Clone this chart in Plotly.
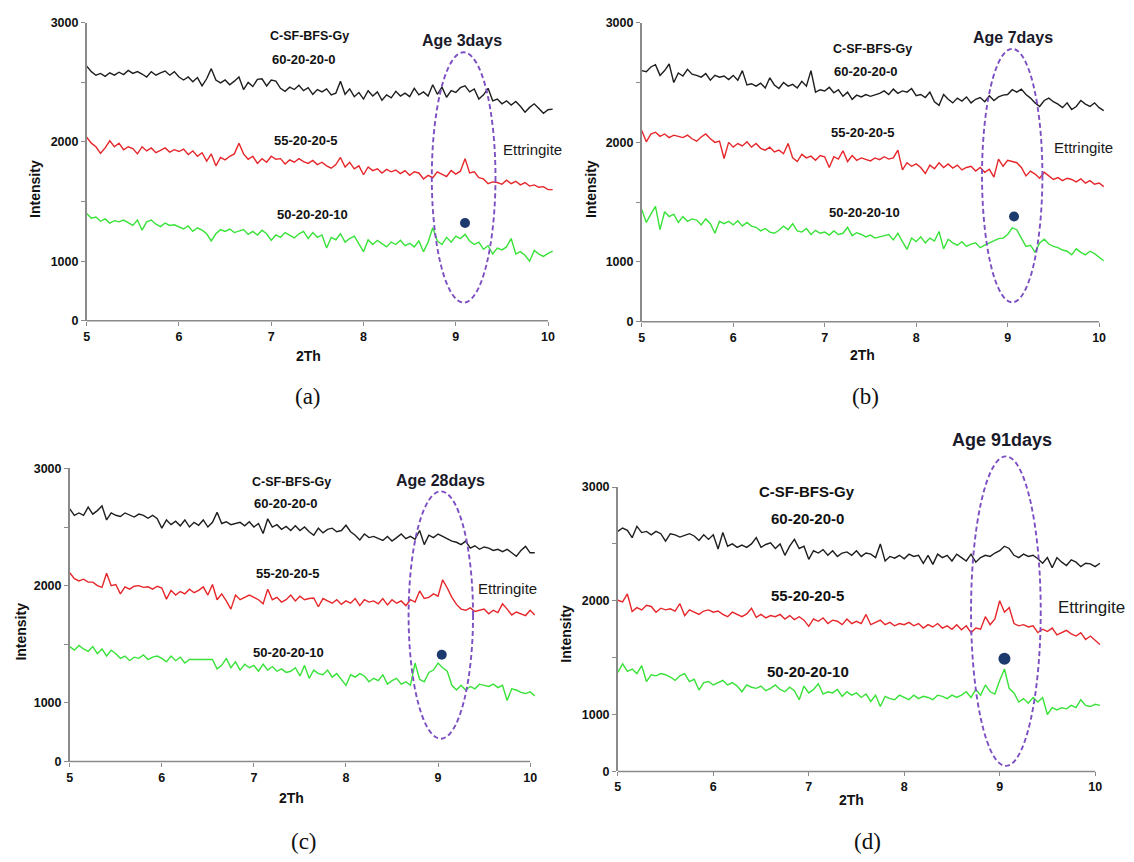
import numpy as np
import plotly.graph_objects as go

# ---------------- data ----------------
two_theta = np.round(5.0 + 0.05 * np.arange(102), 2)   # 5.00 ... 10.05 scan grid
mixes = ["60-20-20-0", "55-20-20-5", "50-20-20-10"]
ages = ["Age 3days", "Age 7days", "Age 28days", "Age 91days"]
panel_labels = ["(a)", "(b)", "(c)", "(d)"]
y_tick_vals = [500, 1000, 1500, 2000, 2500, 3000]
y_tick_text = ["0", "1000", "", "2000", "", "3000"]
x_tick_vals = [5, 6, 7, 8, 9, 10]

a_60 = [2636, 2590, 2560, 2575, 2550, 2580, 2560, 2585, 2565, 2600, 2575, 2590, 2570, 2545, 2590, 2560, 2580, 2595, 2560, 2590,
        2545, 2520, 2545, 2505, 2540, 2470, 2530, 2615, 2520, 2495, 2520, 2480, 2510, 2545, 2440, 2500, 2465, 2525, 2530, 2470,
        2520, 2510, 2450, 2425, 2460, 2440, 2475, 2430, 2455, 2400, 2440, 2420, 2445, 2395, 2410, 2510, 2400, 2445, 2380, 2415,
        2360, 2430, 2385, 2420, 2350, 2395, 2370, 2425, 2385, 2410, 2380, 2450, 2395, 2420, 2385, 2480, 2400, 2460, 2375, 2430,
        2415, 2455, 2470, 2420, 2445, 2360, 2395, 2450, 2345, 2360, 2320, 2345, 2310, 2340, 2300, 2250, 2290, 2320, 2280, 2240,
        2270, 2275]
a_55 = [2040, 1990, 1960, 1905, 1950, 2010, 1960, 1990, 1935, 1960, 1945, 1900, 1960, 1925, 1950, 1910, 1930, 1950, 1915, 1935,
        1920, 1940, 1895, 1925, 1880, 1910, 1840, 1900, 1800, 1870, 1850, 1880, 1900, 1990, 1900, 1855, 1880, 1820, 1860, 1830,
        1880, 1855, 1860, 1815, 1850, 1830, 1860, 1835, 1820, 1845, 1810, 1830, 1800, 1780, 1810, 1870, 1790, 1830, 1775, 1800,
        1725, 1790, 1760, 1775, 1740, 1770, 1750, 1765, 1735, 1760, 1720, 1750, 1740, 1690, 1720, 1700, 1750, 1730, 1710, 1760,
        1730, 1755, 1860, 1740, 1750, 1700, 1690, 1650, 1665, 1660, 1645, 1680, 1650, 1670, 1640, 1660, 1630, 1640, 1620, 1625,
        1600, 1600]
a_50 = [1400, 1360, 1370, 1335, 1355, 1320, 1340, 1330, 1345, 1320, 1300, 1345, 1260, 1330, 1345, 1310, 1290, 1320, 1300, 1305,
        1285, 1270, 1295, 1250, 1280, 1260, 1230, 1170, 1230, 1265, 1250, 1270, 1240, 1250, 1265, 1225, 1250, 1220, 1260, 1230,
        1175, 1220, 1200, 1240, 1215, 1195, 1230, 1250, 1190, 1240, 1200, 1220, 1110, 1200, 1180, 1230, 1160, 1190, 1210, 1150,
        1080, 1180, 1140, 1175, 1150, 1120, 1160, 1140, 1175, 1130, 1150, 1120, 1170, 1080, 1160, 1280, 1170, 1140, 1200, 1160,
        1210, 1190, 1225, 1170, 1140, 1160, 1100, 1130, 1060, 1110, 1095, 1120, 1190, 1060, 1080, 1050, 1000, 1090, 1060, 1040,
        1065, 1085]

b_60 = [2600, 2590, 2630, 2650, 2560, 2600, 2655, 2500, 2580, 2555, 2610, 2570, 2560, 2545, 2575, 2520, 2560, 2545, 2555, 2525,
        2560, 2520, 2600, 2480, 2490, 2470, 2495, 2455, 2540, 2480, 2450, 2500, 2470, 2485, 2455, 2510, 2470, 2600, 2420, 2440,
        2430, 2460, 2415, 2440, 2385, 2420, 2360, 2395, 2380, 2400, 2385, 2395, 2410, 2430, 2400, 2445, 2410, 2430, 2420, 2450,
        2390, 2400, 2375, 2420, 2340, 2310, 2400, 2360, 2330, 2370, 2345, 2380, 2330, 2360, 2375, 2340, 2390, 2350, 2380, 2395,
        2400, 2440, 2420, 2445, 2400, 2370, 2330, 2300, 2350, 2370, 2340, 2320, 2290, 2330, 2275, 2300, 2350, 2320, 2300, 2330,
        2290, 2265]
b_55 = [2100, 2005, 2070, 2085, 2050, 2070, 2040, 2060, 2050, 2040, 2060, 2030, 2010, 2045, 2070, 2030, 2000, 2010, 1865, 2000,
        1960, 1990, 1970, 2005, 1960, 1990, 1950, 1935, 1960, 1920, 1935, 1905, 1990, 1870, 1840, 1900, 1870, 1885, 1850, 1890,
        1880, 1790, 1880, 1860, 1930, 1840, 1890, 1850, 1870, 1860, 1845, 1870, 1855, 1880, 1860, 1870, 1935, 1770, 1830, 1800,
        1820, 1790, 1740, 1810, 1780, 1830, 1790, 1820, 1785, 1810, 1770, 1790, 1800, 1760, 1790, 1750, 1775, 1710, 1860, 1800,
        1850, 1840, 1830, 1790, 1720, 1760, 1735, 1700, 1750, 1720, 1690, 1705, 1680, 1700, 1690, 1670, 1695, 1660, 1680, 1650,
        1660, 1630]
b_50 = [1440, 1330, 1400, 1465, 1270, 1420, 1380, 1400, 1330, 1380, 1340, 1360, 1350, 1310, 1360, 1320, 1240, 1340, 1320, 1340,
        1310, 1345, 1300, 1330, 1300, 1290, 1260, 1280, 1250, 1240, 1265, 1300, 1270, 1320, 1260, 1250, 1280, 1230, 1265, 1240,
        1250, 1225, 1260, 1230, 1240, 1290, 1220, 1245, 1230, 1210, 1225, 1200, 1210, 1220, 1230, 1185, 1240, 1170, 1105, 1200,
        1170, 1210, 1160, 1200, 1175, 1255, 1110, 1190, 1160, 1140, 1170, 1130, 1150, 1160, 1120, 1140, 1160, 1180, 1195, 1200,
        1230, 1285, 1270, 1200, 1130, 1140, 1080, 1160, 1190, 1150, 1130, 1120, 1100, 1090, 1060, 1110, 1080, 1060, 1090, 1070,
        1040, 1010]

c_60 = [2655, 2600, 2620, 2600, 2670, 2610, 2640, 2680, 2560, 2620, 2600, 2590, 2620, 2605, 2585, 2610, 2600, 2575, 2600, 2570,
        2490, 2560, 2520, 2550, 2510, 2560, 2500, 2540, 2515, 2560, 2500, 2540, 2625, 2530, 2545, 2520, 2530, 2540, 2510, 2545,
        2500, 2530, 2445, 2570, 2500, 2520, 2480, 2505, 2470, 2510, 2470, 2500, 2460, 2430, 2490, 2450, 2480, 2490, 2460, 2470,
        2515, 2460, 2430, 2390, 2440, 2410, 2420, 2400, 2385, 2420, 2380, 2410, 2440, 2400, 2420, 2395, 2470, 2350, 2430, 2410,
        2440, 2420, 2400, 2380, 2370, 2350, 2380, 2320, 2340, 2310, 2330, 2320, 2300, 2310, 2290, 2310, 2280, 2250, 2300, 2335,
        2280, 2280]
c_55 = [2110, 2060, 2040, 2055, 2030, 2030, 2000, 1985, 2105, 2000, 2010, 1930, 1990, 1970, 1995, 2000, 1985, 1990, 1970, 1995,
        1980, 1885, 1960, 1920, 1950, 1930, 1970, 1940, 1960, 1990, 1920, 2010, 1880, 1930, 1870, 1800, 1920, 1880, 1900, 1920,
        1900, 1880, 1845, 1970, 1880, 1900, 1860, 1880, 1920, 1870, 1910, 1880, 1890, 1895, 1820, 1890, 1870, 1850, 1880, 1840,
        1870, 1850, 1890, 1830, 1880, 1860, 1870, 1845, 1890, 1835, 1880, 1850, 1870, 1830, 1880, 1860, 1955, 1890, 1900, 1930,
        1910, 2050, 1980, 1900, 1840, 1800, 1790, 1810, 1780, 1790, 1800, 1760, 1790, 1770, 1845, 1800, 1750, 1775, 1760, 1745,
        1790, 1750]
c_50 = [1480, 1450, 1490, 1460, 1440, 1480, 1420, 1460, 1400, 1450, 1420, 1380, 1400, 1360, 1390, 1380, 1410, 1370, 1390, 1400,
        1380, 1350, 1400, 1360, 1390, 1340, 1370, 1370, 1370, 1370, 1365, 1370, 1290, 1320, 1380, 1300, 1350, 1280, 1330, 1300,
        1320, 1270, 1330, 1280, 1310, 1270, 1290, 1260, 1270, 1300, 1230, 1320, 1210, 1280, 1250, 1240, 1280, 1220, 1250, 1200,
        1150, 1240, 1220, 1250, 1230, 1180, 1210, 1190, 1240, 1160, 1190, 1210, 1160, 1180, 1150, 1340, 1200, 1180, 1260, 1280,
        1340, 1300, 1270, 1150, 1110, 1150, 1110, 1140, 1120, 1160, 1150, 1140, 1160, 1130, 1150, 1020, 1120, 1110, 1090, 1080,
        1095, 1060]

d_60 = [2610, 2640, 2620, 2555, 2655, 2600, 2610, 2580, 2610, 2590, 2525, 2590, 2580, 2560, 2575, 2590, 2570, 2530, 2580, 2540,
        2580, 2455, 2600, 2480, 2500, 2470, 2490, 2470, 2500, 2555, 2470, 2495, 2510, 2460, 2500, 2400, 2480, 2540, 2460, 2480,
        2365, 2440, 2420, 2450, 2400, 2440, 2390, 2420, 2430, 2400, 2440, 2390, 2420, 2410, 2380, 2500, 2350, 2390, 2375, 2400,
        2370, 2410, 2390, 2400, 2330, 2400, 2320, 2410, 2380, 2400, 2350, 2410, 2380, 2350, 2410, 2340, 2380, 2400, 2390, 2420,
        2440, 2480, 2460, 2400, 2380, 2410, 2390, 2400, 2370, 2330, 2380, 2290, 2380, 2340, 2310, 2360, 2340, 2300, 2330, 2325,
        2300, 2330]
d_55 = [2005, 1990, 2060, 1905, 1940, 1920, 1960, 1950, 1900, 1935, 1920, 1930, 1910, 1975, 1870, 1920, 1900, 1880, 1910, 1920,
        1900, 1910, 1880, 1860, 1900, 1880, 1860, 1885, 1935, 1855, 1880, 1850, 1870, 1860, 1880, 1840, 1870, 1835, 1860, 1830,
        1775, 1840, 1820, 1850, 1800, 1830, 1820, 1790, 1840, 1800, 1820, 1800, 1880, 1790, 1810, 1830, 1790, 1810, 1780, 1800,
        1790, 1810, 1780, 1800, 1760, 1790, 1770, 1800, 1760, 1780, 1750, 1790, 1745, 1780, 1720, 1760, 1750, 1860, 1790, 1840,
        2000, 1900, 1940, 1800, 1780, 1790, 1770, 1780, 1720, 1750, 1730, 1760, 1700, 1720, 1740, 1710, 1690, 1720, 1660, 1690,
        1650, 1615]
d_50 = [1370, 1445, 1380, 1400, 1360, 1430, 1290, 1350, 1340, 1360, 1350, 1330, 1300, 1340, 1360, 1290, 1310, 1215, 1280, 1290,
        1260, 1280, 1300, 1260, 1280, 1250, 1200, 1260, 1240, 1230, 1250, 1210, 1230, 1260, 1220, 1200, 1240, 1210, 1130, 1250,
        1190, 1220, 1270, 1180, 1200, 1190, 1220, 1160, 1200, 1170, 1190, 1150, 1180, 1115, 1170, 1070, 1160, 1140, 1130, 1170,
        1150, 1130, 1170, 1140, 1160, 1150, 1130, 1170, 1160, 1140, 1170, 1150, 1170, 1200, 1150, 1220, 1170, 1260, 1200, 1180,
        1300, 1400, 1230, 1190, 1110, 1140, 1100, 1150, 1110, 1150, 1000, 1060, 1040, 1060, 1050, 1080, 1060, 1130, 1080, 1070,
        1090, 1080]

# ettringite marker (2theta, intensity) and highlighted region (2theta lo/hi, intensity lo/hi)
ettringite_dot = [(9.10, 1320), (9.07, 1380), (9.04, 1410), (9.05, 1490)]
ellipse_box = [(8.74, 9.43, 653, 2752), (8.72, 9.38, 663, 2782),
               (8.68, 9.38, 695, 2804), (8.70, 9.43, 548, 3270)]

series = [(a_60, a_55, a_50), (b_60, b_55, b_50), (c_60, c_55, c_50), (d_60, d_55, d_50)]

# ---------------- layout geometry (pixels) ----------------
W, H = 1134, 862
Y_MIN, Y_MAX = 500, 3000
geo = [
    dict(x5=84, x10=547, ytop=16, ybot=319,
         txt=dict(head=(308, 29), m0=(302, 53), m1=(304, 136), m2=(311, 211), age=(461, 34), ett=(531, 145),
                  ytitle=(32, 185), xtitle=(307, 355), lab=(306, 396)),
         fs=dict(head=12.5, mix=13, age=16, ett=15), dot=10),
    dict(x5=641, x10=1100, ytop=16, ybot=320,
         txt=dict(head=(873, 43), m0=(866, 66), m1=(863, 128), m2=(865, 209), age=(1014, 31), ett=(1084, 143),
                  ytitle=(590, 185), xtitle=(863, 354), lab=(866, 396)),
         fs=dict(head=12.5, mix=13, age=16, ett=15), dot=10),
    dict(x5=67, x10=529, ytop=469, ybot=767,
         txt=dict(head=(290, 483), m0=(284, 505), m1=(286, 576), m2=(287, 656), age=(439, 481), ett=(506, 591),
                  ytitle=(18, 635), xtitle=(290, 804), lab=(302, 848)),
         fs=dict(head=12.5, mix=13, age=16, ett=15), dot=10),
    dict(x5=617, x10=1096, ytop=488, ybot=777,
         txt=dict(head=(807, 492), m0=(807, 520), m1=(807, 598), m2=(808, 675), age=(1003, 440), ett=(1092, 610),
                  ytitle=(565, 637), xtitle=(852, 806), lab=(868, 848)),
         fs=dict(head=15, mix=15, age=18, ett=17), dot=12),
]

colors = ["#1e1e1e", "#e6262a", "#38e238"]
AX_COL = "#8a8a8a"
ELL_COL = "#7d4fc2"
SANS = "Arial, Liberation Sans, sans-serif"
SERIF = "Times New Roman, Liberation Serif, serif"
X_MAX = 10.06

fig = go.Figure()
shapes, annotations = [], []


def paper(px, py):
    return px / W, 1 - py / H


def ann(text, pos, size, bold=True, color="#111111", family=SANS, angle=0):
    x, y = paper(*pos)
    annotations.append(dict(text=(f"<b>{text}</b>" if bold else text), x=x, y=y, xref="paper", yref="paper",
                            showarrow=False, xanchor="center", yanchor="middle", textangle=angle,
                            font=dict(size=size, color=color, family=family)))


for i, g in enumerate(geo):
    k = "" if i == 0 else str(i + 1)
    xa, ya = "x" + k, "y" + k
    per = (g["x10"] - g["x5"]) / 5.0
    x_right = g["x10"] + (X_MAX - 10) * per
    xdom = [g["x5"] / W, x_right / W]
    ydom = [1 - g["ybot"] / H, 1 - g["ytop"] / H]

    fig.layout["xaxis" + k] = dict(
        domain=xdom, anchor=ya, range=[5, X_MAX], tickvals=x_tick_vals, ticks="outside", ticklen=4,
        tickcolor=AX_COL, tickwidth=1.2, showline=False, showgrid=False, zeroline=False,
        tickfont=dict(size=12.5, color="#111", family=SANS, weight="bold"))
    fig.layout["yaxis" + k] = dict(
        domain=ydom, anchor=xa, range=[Y_MIN, Y_MAX], tickvals=y_tick_vals, ticktext=y_tick_text,
        ticks="outside", ticklen=4, tickcolor=AX_COL, tickwidth=1.2, showline=True, linecolor=AX_COL,
        linewidth=1.5, showgrid=False, zeroline=False,
        tickfont=dict(size=12.5, color="#111", family=SANS, weight="bold"))

    for s, (vals, col) in enumerate(zip(series[i], colors)):
        fig.add_trace(go.Scatter(x=two_theta, y=vals, mode="lines", xaxis=xa, yaxis=ya,
                                 line=dict(color=col, width=1.4), showlegend=False, name=mixes[s]))

    dx, dy = ettringite_dot[i]
    fig.add_trace(go.Scatter(x=[dx], y=[dy], mode="markers", xaxis=xa, yaxis=ya, showlegend=False,
                             marker=dict(color="#1d3a6e", size=g["dot"])))

    # x axis line from 5 to 10
    shapes.append(dict(type="line", xref=xa, yref=ya + " domain", x0=5, x1=10, y0=0, y1=0,
                       line=dict(color=AX_COL, width=1.5)))
    e0, e1, v0, v1 = ellipse_box[i]
    shapes.append(dict(type="circle", xref=xa, yref=ya + " domain", x0=e0, x1=e1,
                       y0=(v0 - Y_MIN) / (Y_MAX - Y_MIN), y1=(v1 - Y_MIN) / (Y_MAX - Y_MIN),
                       line=dict(color=ELL_COL, width=1.9, dash="5px,3px")))

    t, fs = g["txt"], g["fs"]
    ann("C-SF-BFS-Gy", t["head"], fs["head"])
    ann(mixes[0], t["m0"], fs["mix"])
    ann(mixes[1], t["m1"], fs["mix"])
    ann(mixes[2], t["m2"], fs["mix"])
    ann(ages[i], t["age"], fs["age"], color="#1a1a2a")
    ann("Ettringite", t["ett"], fs["ett"], bold=False, color="#1a1a1a")
    ann("Intensity", t["ytitle"], 14, angle=-90)
    ann("2Th", t["xtitle"], 14)
    ann(panel_labels[i], t["lab"], 23, bold=False, family=SERIF)

fig.update_layout(width=W, height=H, margin=dict(l=0, r=0, t=0, b=0), paper_bgcolor="white",
                  plot_bgcolor="rgba(0,0,0,0)", shapes=shapes, annotations=annotations, showlegend=False)

fig.write_html("out.html")
